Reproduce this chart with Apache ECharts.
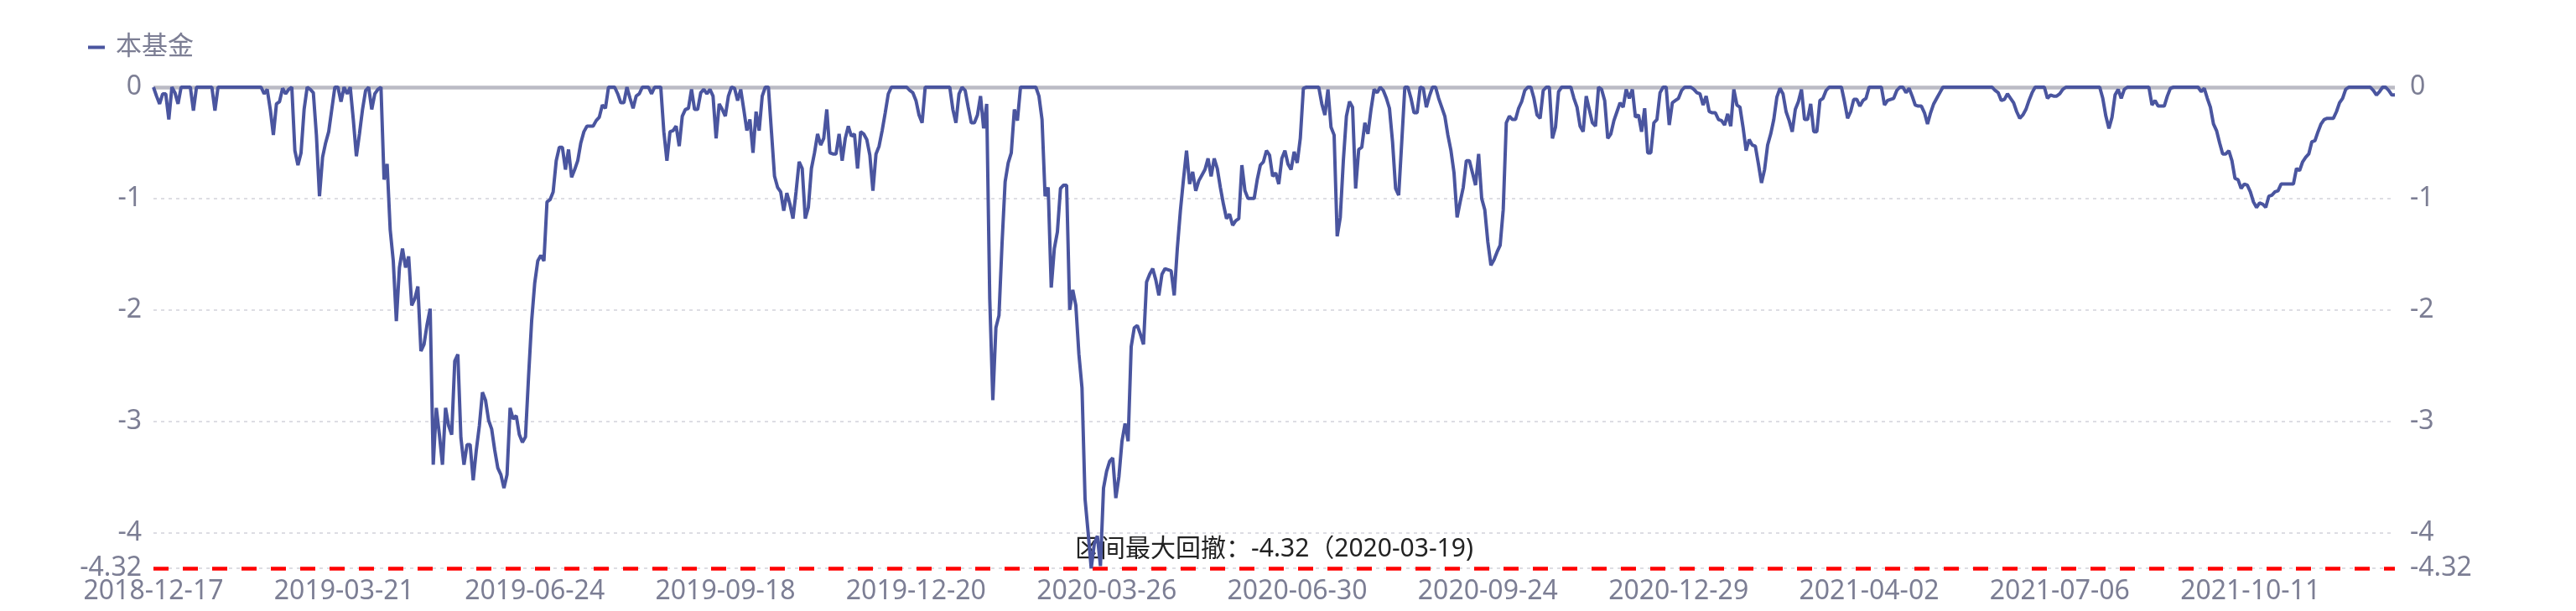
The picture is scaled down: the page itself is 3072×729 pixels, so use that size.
<!DOCTYPE html>
<html>
<head>
<meta charset="utf-8">
<script src="https://cdn.jsdelivr.net/npm/echarts@6/dist/echarts.min.js"></script>
<style>
  html, body { margin: 0; padding: 0; background: #ffffff; }
  #chart { width: 3072px; height: 729px; }
</style>
</head>
<body>
<div id="chart"></div>
<script>
const seriesName = '本基金';
const tickLabels = ['2018-12-17','2019-03-21','2019-06-24','2019-09-18','2019-12-20','2020-03-26','2020-06-30','2020-09-24','2020-12-29','2021-04-02','2021-07-06','2021-10-11'];
const labelStep = 62;
const maxDrawdown = -4.32;
const maxDrawdownDate = '2020-03-19';
const drawdown = [
0,-0.08,-0.15,-0.06,-0.06,-0.29,0,-0.05,-0.15,0,
0,0,0,-0.21,0,0,0,0,0,0,
-0.21,0,0,0,0,0,0,0,0,0,
0,0,0,0,0,0,-0.06,-0.02,-0.2,-0.43,
-0.15,-0.13,-0.01,-0.06,-0.02,0,-0.57,-0.7,-0.59,-0.2,
0,-0.02,-0.05,-0.43,-0.98,-0.63,-0.5,-0.4,-0.2,0,
0,-0.13,0,-0.06,0,-0.29,-0.62,-0.42,-0.2,-0.03,
0,-0.2,-0.06,-0.02,0,-0.83,-0.69,-1.28,-1.56,-2.1,
-1.62,-1.45,-1.62,-1.52,-1.96,-1.9,-1.79,-2.37,-2.31,-2.13,
-1.99,-3.39,-2.88,-3.12,-3.39,-2.88,-3.04,-3.12,-2.46,-2.4,
-3.15,-3.39,-3.21,-3.21,-3.53,-3.26,-3.04,-2.74,-2.81,-2.99,
-3.07,-3.26,-3.42,-3.48,-3.6,-3.48,-2.88,-2.98,-2.95,-3.12,
-3.19,-3.14,-2.6,-2.1,-1.76,-1.56,-1.51,-1.56,-1.03,-1.01,
-0.94,-0.66,-0.54,-0.54,-0.74,-0.56,-0.81,-0.74,-0.66,-0.5,
-0.4,-0.35,-0.35,-0.35,-0.3,-0.27,-0.16,-0.19,0,0,
0,-0.06,-0.14,-0.14,0,-0.1,-0.19,-0.08,-0.06,0,
0,0,-0.06,0,0,0,-0.4,-0.66,-0.4,-0.39,
-0.35,-0.53,-0.26,-0.2,-0.19,-0.02,-0.2,-0.2,-0.05,-0.02,
-0.06,-0.02,-0.08,-0.46,-0.15,-0.2,-0.26,-0.08,0,-0.01,
-0.12,-0.02,-0.2,-0.39,-0.29,-0.59,-0.22,-0.39,-0.08,0,
0,-0.4,-0.8,-0.9,-0.94,-1.11,-0.95,-1.05,-1.18,-0.94,
-0.67,-0.73,-1.18,-1.08,-0.73,-0.59,-0.42,-0.52,-0.46,-0.2,
-0.59,-0.6,-0.6,-0.42,-0.66,-0.46,-0.35,-0.44,-0.42,-0.73,
-0.4,-0.42,-0.47,-0.61,-0.93,-0.6,-0.53,-0.39,-0.23,-0.06,
0,0,0,0,0,0,-0.03,-0.05,-0.12,-0.25,
-0.32,0,0,0,0,0,0,0,0,0,
-0.2,-0.32,-0.06,0,-0.03,-0.18,-0.32,-0.32,-0.25,-0.08,
-0.37,-0.15,-1.9,-2.81,-2.16,-2.05,-1.4,-0.85,-0.68,-0.59,
-0.2,-0.3,0,0,0,0,0,0,-0.08,-0.29,
-0.98,-0.9,-1.8,-1.45,-1.3,-0.91,-0.88,-0.88,-2.0,-1.82,
-1.96,-2.4,-2.7,-3.7,-4.0,-4.32,-4.1,-4.03,-4.3,-3.6,
-3.45,-3.36,-3.33,-3.69,-3.5,-3.18,-3.02,-3.18,-2.33,-2.16,
-2.14,-2.22,-2.31,-1.75,-1.68,-1.63,-1.73,-1.87,-1.68,-1.63,
-1.64,-1.65,-1.87,-1.45,-1.11,-0.83,-0.57,-0.87,-0.76,-0.93,
-0.84,-0.79,-0.74,-0.64,-0.8,-0.64,-0.73,-0.9,-1.05,-1.18,
-1.14,-1.24,-1.2,-1.18,-0.7,-0.93,-1.0,-1.0,-1.0,-0.83,
-0.7,-0.67,-0.57,-0.61,-0.8,-0.77,-0.87,-0.64,-0.57,-0.69,
-0.74,-0.58,-0.68,-0.46,-0.01,0,0,0,0,0,
-0.15,-0.25,-0.02,-0.36,-0.43,-1.34,-1.17,-0.66,-0.26,-0.13,
-0.18,-0.91,-0.56,-0.54,-0.32,-0.42,-0.2,-0.02,-0.05,0,
-0.03,-0.1,-0.19,-0.49,-0.91,-0.97,-0.49,0,0,-0.1,
-0.23,-0.23,0,-0.01,-0.18,-0.08,0,0,-0.1,-0.18,
-0.26,-0.43,-0.57,-0.77,-1.17,-1.03,-0.9,-0.66,-0.66,-0.77,
-0.88,-0.6,-1.0,-1.1,-1.39,-1.6,-1.55,-1.48,-1.42,-1.1,
-0.32,-0.26,-0.29,-0.29,-0.19,-0.13,-0.03,0,0,-0.1,
-0.25,-0.28,-0.03,0,0,-0.46,-0.36,-0.04,0,0,
0,0,-0.1,-0.18,-0.35,-0.4,-0.08,-0.2,-0.32,-0.35,
0,-0.02,-0.12,-0.46,-0.42,-0.3,-0.22,-0.14,-0.18,-0.02,
-0.1,-0.02,-0.27,-0.25,-0.4,-0.19,-0.59,-0.59,-0.32,-0.29,
-0.05,0,0,-0.34,-0.14,-0.12,-0.1,-0.03,0,0,
0,-0.02,-0.05,-0.06,-0.16,-0.08,-0.22,-0.23,-0.23,-0.29,
-0.3,-0.34,-0.24,-0.35,-0.02,-0.16,-0.18,-0.36,-0.57,-0.47,
-0.52,-0.53,-0.69,-0.86,-0.74,-0.52,-0.42,-0.29,-0.09,-0.01,
-0.06,-0.22,-0.3,-0.4,-0.2,-0.13,-0.02,-0.29,-0.29,-0.15,
-0.4,-0.4,-0.12,-0.1,-0.03,0,0,0,0,0,
-0.13,-0.28,-0.22,-0.11,-0.11,-0.17,-0.12,-0.1,0,0,
0,0,0,-0.16,-0.12,-0.11,-0.1,-0.03,0,0,
-0.05,-0.01,-0.08,-0.16,-0.17,-0.17,-0.23,-0.33,-0.23,-0.15,
-0.1,-0.05,0,0,0,0,0,0,0,0,
0,0,0,0,0,0,0,0,0,-0.03,
-0.05,-0.12,-0.11,-0.06,-0.1,-0.14,-0.22,-0.28,-0.25,-0.2,
-0.12,-0.05,0,0,0,0,-0.1,-0.07,-0.08,-0.08,
-0.06,-0.02,0,0,0,0,0,0,0,0,
0,0,0,0,-0.1,-0.26,-0.37,-0.27,-0.07,-0.02,
-0.1,-0.02,0,0,0,0,0,0,0,0,
-0.16,-0.12,-0.17,-0.17,-0.17,-0.08,-0.01,0,0,0,
0,0,0,0,0,0,-0.04,-0.01,-0.1,-0.18,
-0.33,-0.39,-0.5,-0.6,-0.6,-0.57,-0.66,-0.82,-0.83,-0.91,
-0.87,-0.88,-0.94,-1.03,-1.08,-1.04,-1.05,-1.08,-0.98,-0.97,
-0.94,-0.93,-0.87,-0.87,-0.87,-0.87,-0.87,-0.73,-0.75,-0.67,
-0.63,-0.6,-0.49,-0.48,-0.4,-0.33,-0.29,-0.28,-0.28,-0.28,
-0.22,-0.14,-0.1,-0.02,0,0,0,0,0,0,
0,0,-0.03,-0.07,-0.04,0,0,-0.03,-0.07,-0.07
];

const categories = drawdown.map((_, i) => (i % labelStep === 0 && tickLabels[i / labelStep]) ? tickLabels[i / labelStep] : 'd' + i);

const FONT = "'Noto Sans', 'Noto Sans CJK SC', sans-serif";
const AXIS_COLOR = '#7c7e94';
const LINE_COLOR = '#4a559f';

const chart = echarts.init(document.getElementById('chart'), null, { renderer: 'canvas' });
chart.setOption({
  animation: false,
  backgroundColor: '#ffffff',
  textStyle: { fontFamily: FONT },
  legend: {
    data: [seriesName],
    left: 100,
    top: 36,
    icon: 'rect',
    itemWidth: 20,
    itemHeight: 4,
    textStyle: { fontSize: 31, color: AXIS_COLOR, fontFamily: FONT, padding: [0, 0, 0, 8] }
  },
  grid: { left: 183, right: 216, top: 104, bottom: 51, containLabel: false },
  xAxis: {
    type: 'category',
    data: categories,
    boundaryGap: false,
    axisLine: { show: false },
    axisTick: { show: false },
    splitLine: { show: false },
    axisLabel: {
      interval: labelStep - 1,
      fontSize: 32,
      color: AXIS_COLOR,
      fontFamily: FONT,
      margin: 12
    }
  },
  yAxis: [
    {
      type: 'value',
      position: 'left',
      min: maxDrawdown,
      max: 0,
      axisLine: { show: false },
      axisTick: { show: false },
      axisLabel: { fontSize: 32, color: AXIS_COLOR, fontFamily: FONT, margin: 14 },
      splitLine: { show: true, lineStyle: { color: '#d2d2da', width: 1.5, type: [4, 5] } }
    },
    {
      type: 'value',
      position: 'right',
      min: maxDrawdown,
      max: 0,
      axisLine: { show: false },
      axisTick: { show: false },
      axisLabel: { fontSize: 32, color: AXIS_COLOR, fontFamily: FONT, margin: 18 },
      splitLine: { show: false }
    }
  ],
  series: [
    {
      name: seriesName,
      type: 'line',
      data: drawdown,
      yAxisIndex: 0,
      symbol: 'none',
      showSymbol: false,
      z: 5,
      lineStyle: { color: LINE_COLOR, width: 4 },
      itemStyle: { color: LINE_COLOR }
    },
    {
      name: 'guides',
      type: 'line',
      data: [],
      yAxisIndex: 0,
      z: 1,
      markLine: {
        silent: true,
        symbol: ['none', 'none'],
        animation: false,
        emphasis: { disabled: true },
        data: [
          {
            yAxis: 0,
            lineStyle: { color: '#bbbbc5', type: 'solid', width: 4.5 },
            label: { show: false }
          },
          {
            yAxis: maxDrawdown,
            lineStyle: { color: '#ff0000', type: [18, 17], width: 4.5 },
            label: {
              show: true,
              position: 'middle',
              formatter: '区间最大回撤：' + maxDrawdown + '（' + maxDrawdownDate + ')',
              color: '#222222',
              fontSize: 30,
              fontFamily: FONT,
              distance: 8
            }
          }
        ]
      }
    }
  ]
});
</script>
</body>
</html>
